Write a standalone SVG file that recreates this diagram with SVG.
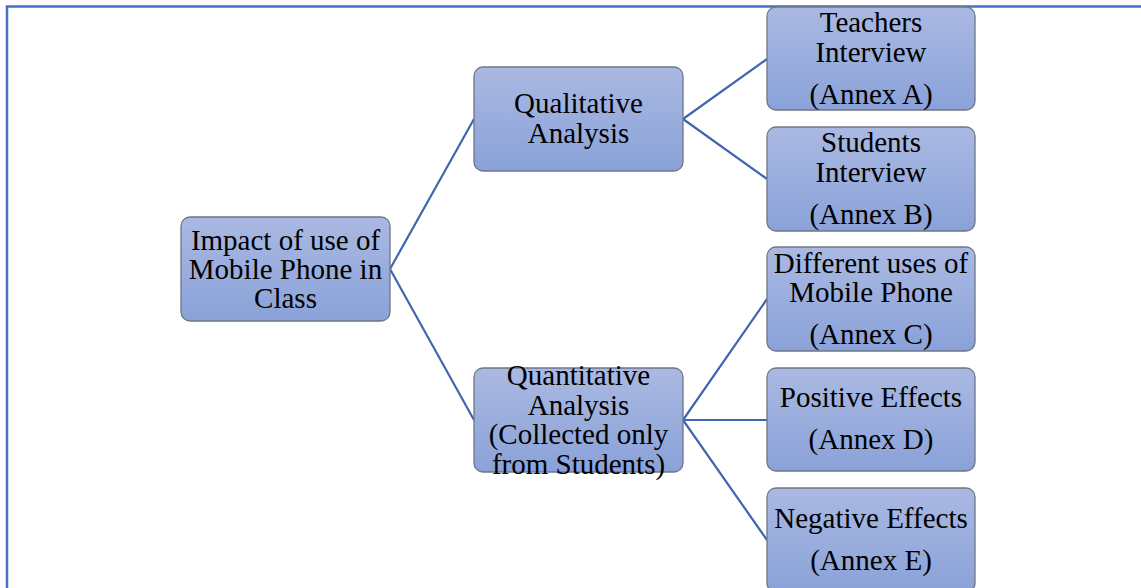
<svg xmlns="http://www.w3.org/2000/svg" width="1141" height="588" viewBox="0 0 1141 588">
<defs>
<linearGradient id="g" x1="0" y1="0" x2="0" y2="1">
<stop offset="0" stop-color="#AAB9E2"/>
<stop offset="1" stop-color="#8AA2D9"/>
</linearGradient>
<style>
.box{fill:url(#g);stroke:#6F7585;stroke-width:1.3}
.t{font-family:'Liberation Serif','Times New Roman',serif;font-size:29px;fill:#000;text-anchor:middle}
.c{stroke:#3F67B0;stroke-width:2.2;fill:none}
.frame{stroke:#4472C4;stroke-width:2.5;fill:none}
</style>
</defs>
<rect width="1141" height="588" fill="#fff"/>
<path class="frame" d="M7 588 V6.5 H1141"/>
<g id="connectors">
<path class="c" d="M390 269 L474 119 M390 269 L474 420"/>
<path class="c" d="M683 119 L767 59 M683 119 L767 179"/>
<path class="c" d="M683 420 L767 299 M683 420 L767 420 M683 420 L767 540"/>
</g>
<g id="root">
<rect class="box" x="181" y="217" width="209" height="104" rx="9"/>
<text class="t" x="285.5" y="250">Impact of use of</text>
<text class="t" x="285.5" y="279">Mobile Phone in</text>
<text class="t" x="285.5" y="308">Class</text>
</g>
<g id="qualitative">
<rect class="box" x="474" y="67" width="209" height="104" rx="9"/>
<text class="t" x="578.5" y="113">Qualitative</text>
<text class="t" x="578.5" y="143">Analysis</text>
</g>
<g id="quantitative">
<rect class="box" x="474" y="368" width="209" height="104" rx="9"/>
<text class="t" x="578.5" y="385">Quantitative</text>
<text class="t" x="578.5" y="415">Analysis</text>
<text class="t" x="578.5" y="444">(Collected only</text>
<text class="t" x="578.5" y="474">from Students)</text>
</g>
<g id="teachers">
<rect class="box" x="767" y="7" width="208" height="103" rx="9"/>
<text class="t" x="871" y="32">Teachers</text>
<text class="t" x="871" y="62">Interview</text>
<text class="t" x="871" y="104">(Annex A)</text>
</g>
<g id="students">
<rect class="box" x="767" y="127" width="208" height="104" rx="9"/>
<text class="t" x="871" y="152">Students</text>
<text class="t" x="871" y="182">Interview</text>
<text class="t" x="871" y="224">(Annex B)</text>
</g>
<g id="uses">
<rect class="box" x="767" y="247" width="208" height="104" rx="9"/>
<text class="t" x="871" y="273">Different uses of</text>
<text class="t" x="871" y="302">Mobile Phone</text>
<text class="t" x="871" y="344">(Annex C)</text>
</g>
<g id="positive">
<rect class="box" x="767" y="368" width="208" height="103" rx="9"/>
<text class="t" x="871" y="407">Positive Effects</text>
<text class="t" x="871" y="449">(Annex D)</text>
</g>
<g id="negative">
<rect class="box" x="767" y="488" width="208" height="104" rx="9"/>
<text class="t" x="871" y="528">Negative Effects</text>
<text class="t" x="871" y="570">(Annex E)</text>
</g>
</svg>
